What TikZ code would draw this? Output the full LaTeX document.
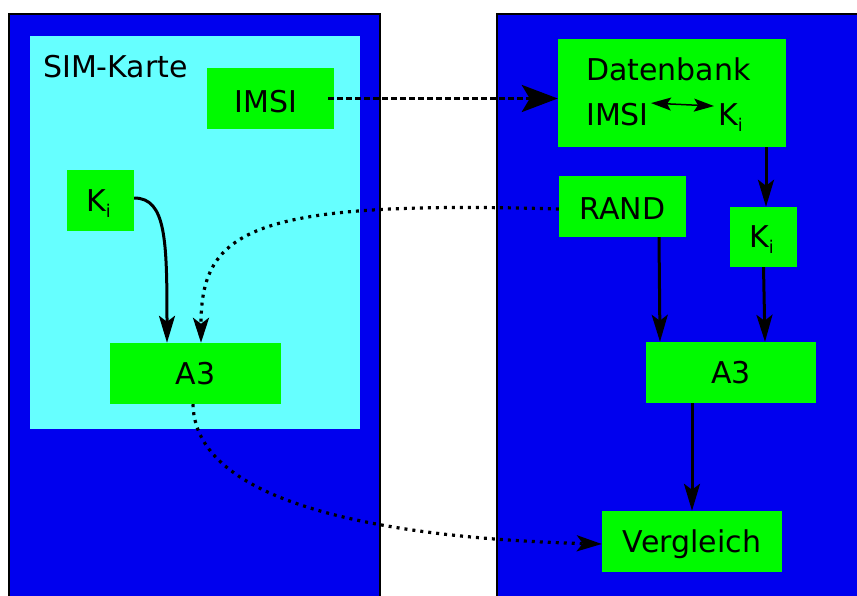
\documentclass[tikz,border=0pt]{standalone}
\usepackage{fontspec}
\setmainfont{DejaVu Sans}
\usetikzlibrary{arrows.meta,calc}
\definecolor{outerblue}{RGB}{0,0,238}
\definecolor{simcyan}{RGB}{102,255,255}
\definecolor{boxgreen}{RGB}{0,250,0}
\newcommand\Kisub{K\raisebox{-6pt}{\fontsize{17.5}{17.5}\selectfont i}}
\tikzset{
  outerbox/.style={draw=black, line width=1.5pt, fill=outerblue},
  gbox/.style={fill=boxgreen, draw=none, inner sep=0pt, text height=21.9pt, text depth=0pt, font=\fontsize{30}{35}\selectfont},
  txt/.style={inner sep=0pt, font=\fontsize{30}{35}\selectfont, anchor=base west},
  solidarr/.style={line width=3pt, -{Stealth[length=27pt, width=16pt, inset=6pt]}},
  dotarr/.style={line width=3.2pt, dash pattern=on 3pt off 5pt, -{Stealth[length=25pt, width=16pt, inset=6pt]}},
  dasharr/.style={line width=3.5pt, dash pattern=on 6pt off 3pt, -{Stealth[length=36pt, width=27pt, inset=8pt]}},
}
\begin{document}
\begin{tikzpicture}[x=1pt, y=-1pt]
\clip (0,0) rectangle (857,596);
\fill[white] (0,0) rectangle (857,596);
% outer boxes
\draw[outerbox] (9,14) rectangle (380,620);
\draw[outerbox] (497,14) rectangle (880,620);
\fill[simcyan] (30,36) rectangle (360,429);
\node[txt] (simlabel) at (43,78) {SIM-Karte};
% left nodes
\node[gbox, minimum width=127pt, minimum height=61pt] (imsiL) at (270.5,98.5) {\hspace*{-9pt}\raisebox{-3pt}{IMSI}};
\node[gbox, minimum width=67pt, minimum height=61pt] (kiL) at (100.5,200.5) {\hspace*{-4pt}\Kisub};
\node[gbox, minimum width=171pt, minimum height=61pt] (a3L) at (195.5,373.5) {A3};
% right nodes
\node[gbox, minimum width=228pt, minimum height=108pt] (db) at (672,93) {};
\node[txt] (dbtitle) at (586,81) {Datenbank};
\node[txt] (dbimsi) at (586,126) {IMSI};
\node[txt] (dbki) at (718,126) {\Kisub};
\node[gbox, minimum width=127pt, minimum height=61pt] (rand) at (622.5,206.5) {\raisebox{-2pt}{RAND}};
\node[gbox, minimum width=67pt, minimum height=60pt] (kiR) at (763.5,237) {\hspace*{-4pt}\Kisub};
\node[gbox, minimum width=170pt, minimum height=61pt] (a3R) at (731,372.5) {A3};
\node[gbox, minimum width=180pt, minimum height=61pt] (verg) at (692,541.5) {Vergleich};
% connectors
\draw[line width=1.5pt, {Stealth[length=20pt, width=13pt, inset=4pt]}-{Stealth[length=20pt, width=13pt, inset=4pt]}]
  ([xshift=2pt,yshift=12pt]dbimsi.east) -- ([xshift=-4pt,yshift=12pt]dbki.west);
\draw[dasharr] ([xshift=-6pt]imsiL.east) -- (db.west |- imsiL.east);
\draw[solidarr] ([yshift=2.5pt]kiL.east) .. controls (166,198) and (167,240) .. ([xshift=-28.5pt]a3L.north);
\draw[dotarr] ([yshift=-2.5pt]rand.west) .. controls (250,200) and (201,230) .. ([xshift=5.5pt]a3L.north);
\draw[dotarr] ([xshift=-2.5pt]a3L.south) .. controls (195,520) and (450,540) .. ([yshift=-2.5pt]verg.west);
\draw[solidarr] ([xshift=2.5pt]kiR.north |- db.south) -- ([xshift=2.5pt]kiR.north);
\draw[solidarr] ([xshift=36.5pt]rand.south) -- ([xshift=-71pt]a3R.north);
\draw[solidarr] (kiR.south) -- ([xshift=34pt]a3R.north);
\draw[solidarr] (verg.north |- a3R.south) -- (verg.north);
\end{tikzpicture}
\end{document}
